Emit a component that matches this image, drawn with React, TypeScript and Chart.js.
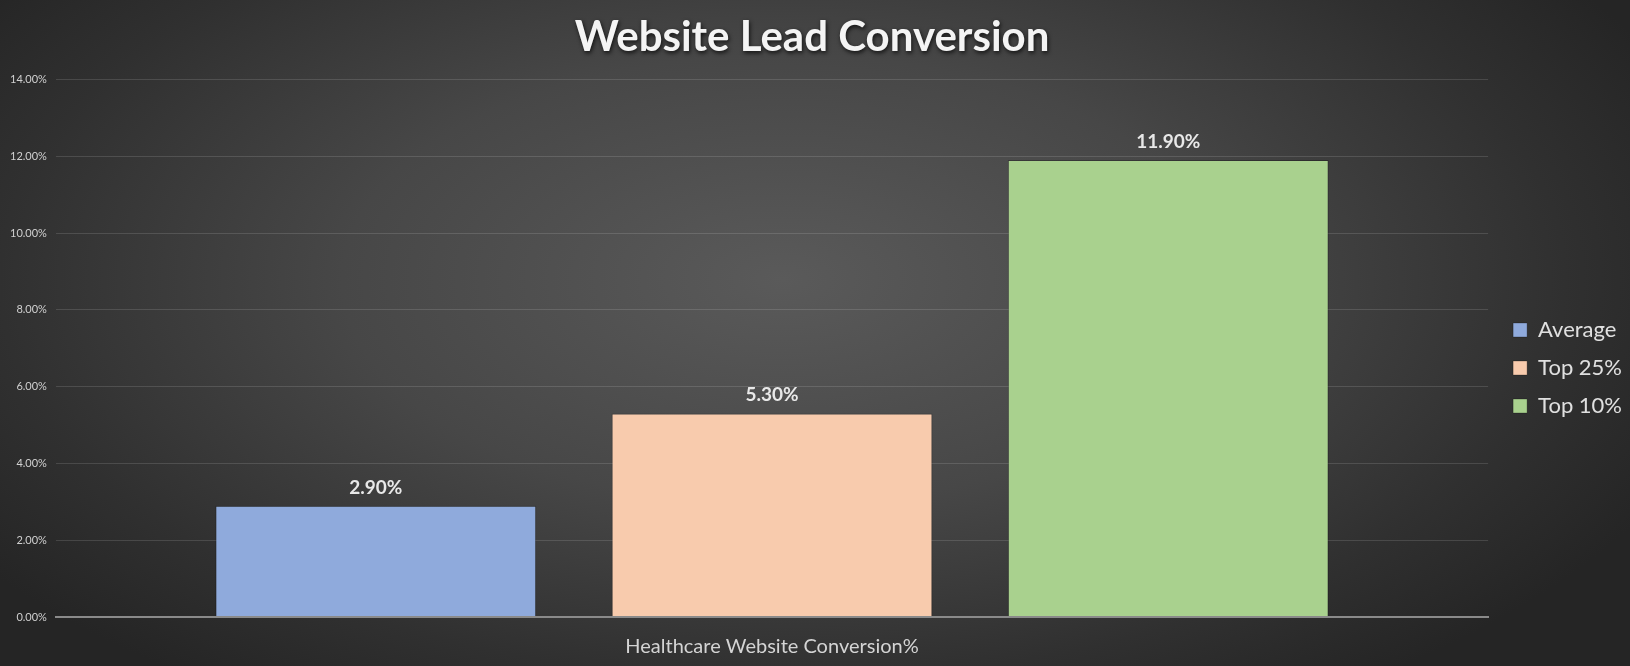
import React, { useEffect, useRef } from "react";
import { Chart, registerables } from "chart.js";

Chart.register(...registerables);

const categories = ["Healthcare Website Conversion%"];
const seriesNames = ["Average", "Top 25%", "Top 10%"];
const averageValues = [2.9];
const top25Values = [5.3];
const top10Values = [11.9];
const seriesColors = ["#8FAADC", "#F8CBAD", "#A9D18E"];
const chartTitle = "Website Lead Conversion";

const FONT = "Lato, 'Open Sans', sans-serif";
const TITLE_SIZE = 42;

const titleShadowPlugin = {
  id: "titleShadow",
  afterDraw(chart: any) {
    const tb = chart.titleBlock;
    if (!tb) return;
    const ctx = chart.ctx;
    ctx.save();
    ctx.font = `bold ${TITLE_SIZE}px ${FONT}`;
    ctx.textAlign = "center";
    ctx.textBaseline = "middle";
    ctx.shadowColor = "rgba(0,0,0,0.75)";
    ctx.shadowBlur = 4;
    ctx.shadowOffsetX = 1;
    ctx.shadowOffsetY = 2;
    ctx.fillStyle = "#f4f4f4";
    const opts = chart.options.plugins.title;
    const top = tb.top + opts.padding.top;
    const h = TITLE_SIZE * 1.2;
    ctx.fillText(chartTitle, (tb.left + tb.right) / 2, top + h / 2);
    ctx.restore();
  },
};

const legendShiftPlugin = {
  id: "legendShift",
  afterLayout(chart: any) {
    const lg = chart.legend;
    if (!lg) return;
    lg.left += 9;
    lg.right += 9;
  },
};

const dataLabelPlugin = {
  id: "dataLabels",
  afterDatasetsDraw(chart: any) {
    const ctx = chart.ctx;
    ctx.save();
    ctx.font = `bold 19px ${FONT}`;
    ctx.fillStyle = "#e8e8e8";
    ctx.textAlign = "center";
    ctx.textBaseline = "alphabetic";
    chart.data.datasets.forEach((ds: any, di: number) => {
      const meta = chart.getDatasetMeta(di);
      meta.data.forEach((bar: any, i: number) => {
        const v = ds.data[i];
        ctx.fillText(v.toFixed(2) + "%", bar.x, bar.y - 12);
      });
    });
    ctx.restore();
  },
};

export default function App() {
  const canvasRef = useRef<HTMLCanvasElement | null>(null);

  useEffect(() => {
    if (!canvasRef.current) return;
    const values = [averageValues, top25Values, top10Values];
    const chart = new Chart(canvasRef.current, {
      type: "bar",
      data: {
        labels: categories,
        datasets: seriesNames.map((name, i) => ({
          label: name,
          data: values[i],
          backgroundColor: seriesColors[i],
          borderColor: "rgba(0,0,0,0.25)",
          borderWidth: 1,
          categoryPercentage: 0.83,
          barPercentage: 0.81,
        })),
      },
      options: {
        animation: false,
        responsive: false,
        maintainAspectRatio: false,
        layout: { padding: { left: 1, right: 7, bottom: -11, top: 0 } },
        plugins: {
          title: {
            display: true,
            text: chartTitle,
            color: "rgba(0,0,0,0)",
            font: { family: FONT, size: TITLE_SIZE, weight: "bold" },
            padding: { top: 12, bottom: 17 },
          },
          legend: {
            position: "right",
            title: {
              display: true,
              text: " ",
              font: { family: FONT, size: 10 },
              padding: { top: 0, bottom: 47 },
            },
            labels: {
              color: "#e0e0e0",
              font: { family: FONT, size: 22 },
              boxWidth: 14,
              boxHeight: 14,
              padding: 16,
            },
          },
          tooltip: { enabled: false },
        },
        scales: {
          x: {
            grid: { display: false, drawTicks: false },
            border: { color: "#8a8a8a", width: 2 },
            ticks: {
              color: "#d4d4d4",
              font: { family: FONT, size: 20, lineHeight: 1 },
              padding: 20,
            },
          },
          y: {
            min: 0,
            max: 14,
            ticks: {
              stepSize: 2,
              color: "#d0d0d0",
              font: { family: FONT, size: 11 },
              padding: 9,
              callback: (v: any) => Number(v).toFixed(2) + "%",
            },
            grid: {
              drawTicks: false,
              color: (c: any) => (c.tick && c.tick.value === 0 ? "#8a8a8a" : "rgba(255,255,255,0.13)"),
              lineWidth: (c: any) => (c.tick && c.tick.value === 0 ? 2 : 1),
            },
            border: { display: false },
          },
        },
      },
      plugins: [dataLabelPlugin, titleShadowPlugin, legendShiftPlugin],
    });
    return () => chart.destroy();
  }, []);

  return (
    <div
      style={{
        position: "fixed",
        left: 0,
        top: 0,
        width: 1630,
        height: 666,
        background:
          "radial-gradient(ellipse 60% 75% at 48% 42%, #5a5a5a 0%, #474747 45%, #303030 80%, #252525 100%)",
      }}
    >
      <canvas ref={canvasRef} width={1630} height={666} style={{ display: "block" }} />
    </div>
  );
}
